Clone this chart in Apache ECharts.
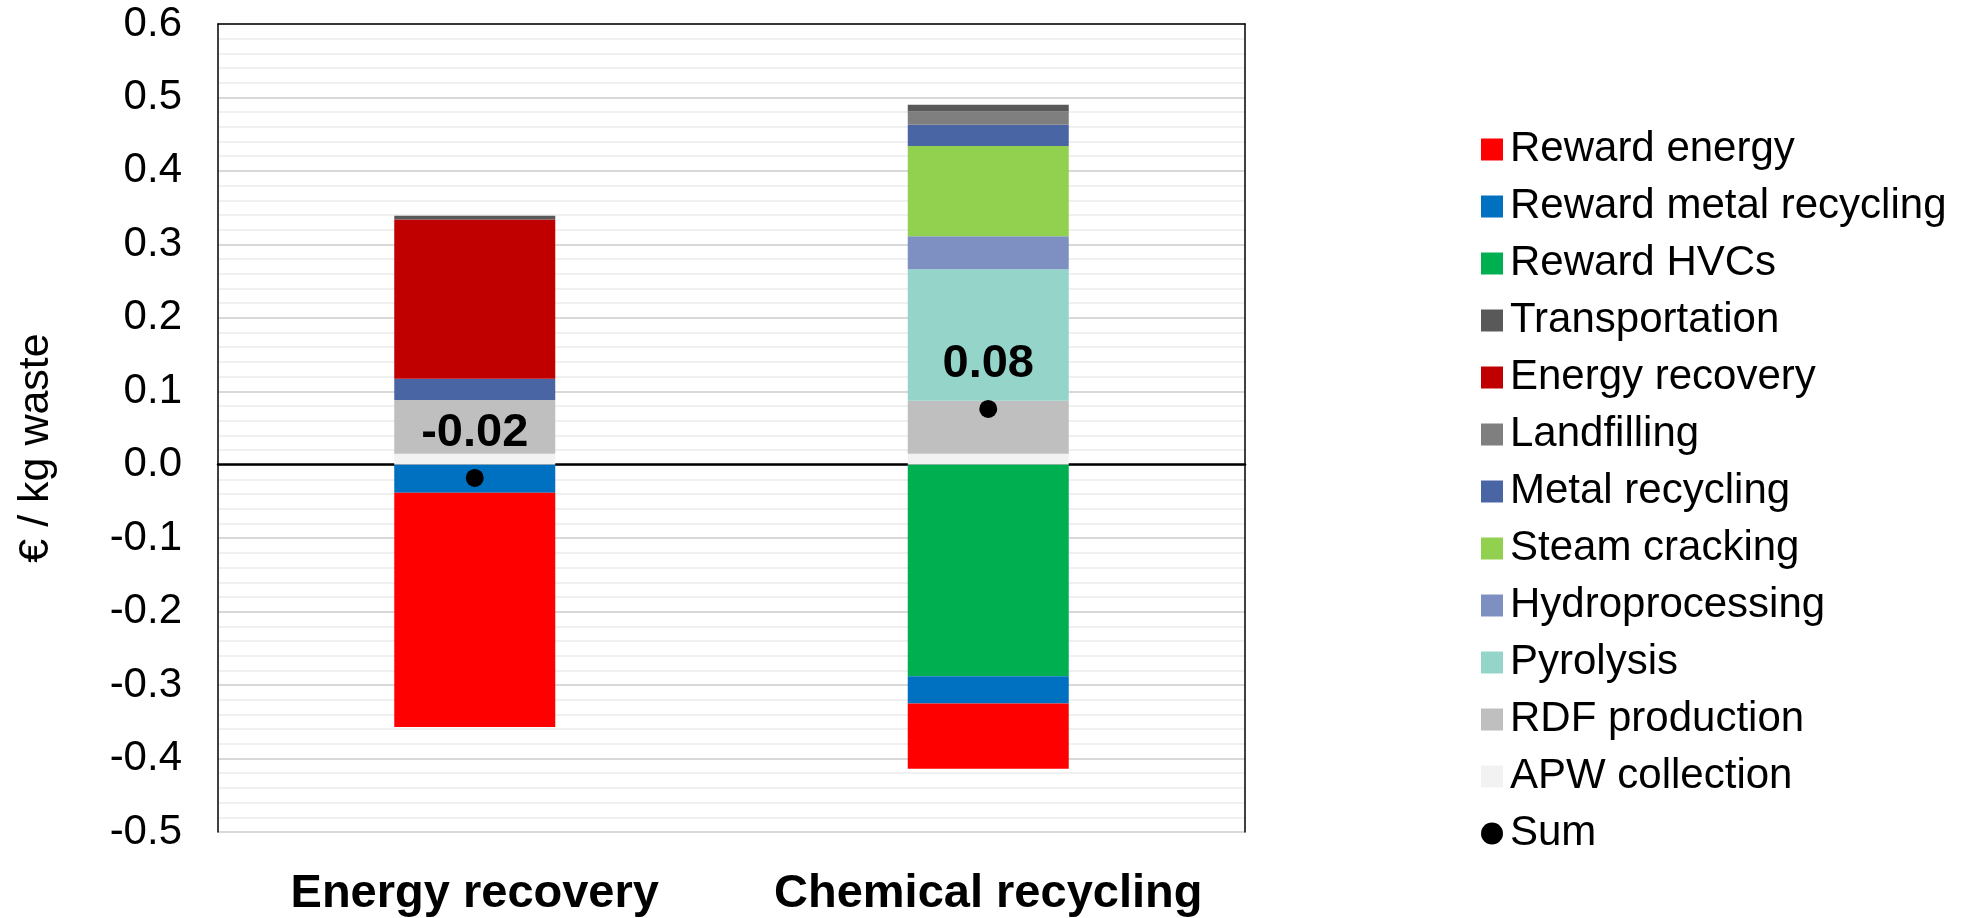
<!DOCTYPE html>
<html>
<head>
<meta charset="utf-8">
<title>Cost breakdown per kg waste</title>
<script src="https://cdn.jsdelivr.net/npm/echarts@6/dist/echarts.min.js"></script>
<style>
  html, body { margin: 0; padding: 0; background: #fff; }
  #chart { width: 1962px; height: 918px; }
</style>
</head>
<body>
<div id="chart"></div>
<script>
// Treatment routes on the category axis
const categories = ['Energy recovery', 'Chemical recycling'];

// Cost contributions (€ / kg waste), one value per route
const apwCollection        = [0.015, 0.015];
const rdfProduction        = [0.073, 0.072];
const pyrolysis            = [0, 0.179];
const hydroprocessing      = [0, 0.045];
const steamCracking        = [0, 0.123];
const metalRecycling       = [0.029, 0.029];
const landfilling          = [0, 0.018];
const energyRecovery       = [0.217, 0];
const transportation       = [0.005, 0.009];

// Rewards (negative costs)
const rewardHVCs           = [0, -0.288];
const rewardMetalRecycling = [-0.038, -0.037];
const rewardEnergy         = [-0.319, -0.089];

// Y axis ticks
const yMin = -0.5, yMax = 0.6, yStep = 0.1;

const FONT = "'Liberation Sans', Arial, sans-serif";

// Stacking order from the zero line outwards
const stackSeries = [
  { name: 'APW collection',         data: apwCollection,        color: '#F2F2F2' },
  { name: 'RDF production',         data: rdfProduction,        color: '#BFBFBF' },
  { name: 'Pyrolysis',              data: pyrolysis,            color: '#94D4C9' },
  { name: 'Hydroprocessing',        data: hydroprocessing,      color: '#7E90C2' },
  { name: 'Steam cracking',         data: steamCracking,        color: '#92D050' },
  { name: 'Metal recycling',        data: metalRecycling,       color: '#4A65A3' },
  { name: 'Landfilling',            data: landfilling,          color: '#7F7F7F' },
  { name: 'Energy recovery',        data: energyRecovery,       color: '#C00000' },
  { name: 'Transportation',         data: transportation,       color: '#595959' },
  { name: 'Reward HVCs',            data: rewardHVCs,           color: '#00B050' },
  { name: 'Reward metal recycling', data: rewardMetalRecycling, color: '#0070C0' },
  { name: 'Reward energy',          data: rewardEnergy,         color: '#FF0000' }
];

// Net result per route
const sums = categories.map((_, i) =>
  stackSeries.reduce((acc, s) => acc + s.data[i], 0));

const legendOrder = [
  'Reward energy', 'Reward metal recycling', 'Reward HVCs', 'Transportation',
  'Energy recovery', 'Landfilling', 'Metal recycling', 'Steam cracking',
  'Hydroprocessing', 'Pyrolysis', 'RDF production', 'APW collection'
];

const series = stackSeries.map(s => ({
  name: s.name,
  type: 'bar',
  stack: 'total',
  barWidth: 161,
  data: s.data,
  itemStyle: { color: s.color },
  emphasis: { disabled: true }
}));

series.push({
  name: 'Sum',
  type: 'scatter',
  data: sums,
  symbol: 'circle',
  symbolSize: 18,
  z: 10,
  itemStyle: { color: '#000', opacity: 1 },
  emphasis: { disabled: true },
  label: {
    show: true,
    position: 'top',
    distance: 12,
    formatter: p => p.value.toFixed(2),
    color: '#000',
    opacity: 1,
    fontFamily: FONT,
    fontWeight: 'bold',
    fontSize: 47,
    lineHeight: 47
  }
});

const chart = echarts.init(document.getElementById('chart'), null, { renderer: 'canvas' });

chart.setOption({
  animation: false,
  backgroundColor: '#fff',
  grid: {
    left: 218, right: 717, top: 24, bottom: 84
  },
  legend: {
    orient: 'vertical',
    left: 1476,
    top: 116,
    itemWidth: 22,
    itemHeight: 22,
    itemGap: 0,
    icon: 'rect',
    selectedMode: false,
    data: legendOrder.map(n => ({ name: n })).concat([{ name: 'Sum', icon: 'circle' }]),
    textStyle: {
      fontFamily: FONT,
      fontSize: 42,
      lineHeight: 57,
      color: '#000',
      padding: [0, 0, 0, 2]
    }
  },
  xAxis: [{
    type: 'category',
    data: categories,
    axisLine: { onZero: true, lineStyle: { color: '#000', width: 2.5 } },
    axisTick: { show: false },
    axisLabel: {
      interval: 0,
      margin: 39,
      color: '#000',
      fontFamily: FONT,
      fontWeight: 'bold',
      fontSize: 47,
      lineHeight: 47
    }
  }, {
    // top frame edge of the plot area
    type: 'category',
    data: categories,
    position: 'top',
    axisLine: { onZero: false, lineStyle: { color: '#000', width: 1.5 } },
    axisTick: { show: false },
    axisLabel: { show: false },
    splitLine: { show: false }
  }],
  yAxis: [{
    type: 'value',
    min: yMin,
    max: yMax,
    interval: yStep,
    name: '€ / kg waste',
    nameLocation: 'middle',
    nameGap: 160,
    nameRotate: 90,
    nameTextStyle: {
      color: '#000',
      fontFamily: FONT,
      fontSize: 43,
      padding: [0, 0, 0, -40]
    },
    axisLine: { show: true, onZero: false, lineStyle: { color: '#000', width: 1.5 } },
    axisTick: { show: false },
    axisLabel: {
      margin: 36,
      color: '#000',
      fontFamily: FONT,
      fontSize: 42,
      formatter: v => v.toFixed(1)
    },
    splitLine: { show: true, lineStyle: { color: '#D9D9D9', width: 2 } },
    minorTick: { show: false, splitNumber: 5 },
    minorSplitLine: { show: true, lineStyle: { color: '#F0F0F0', width: 2 } }
  }, {
    // right frame edge of the plot area
    type: 'value',
    min: yMin,
    max: yMax,
    interval: yStep,
    position: 'right',
    axisLine: { show: true, onZero: false, lineStyle: { color: '#000', width: 1.5 } },
    axisTick: { show: false },
    axisLabel: { show: false },
    splitLine: { show: false }
  }],
  series: series
});
</script>
</body>
</html>
